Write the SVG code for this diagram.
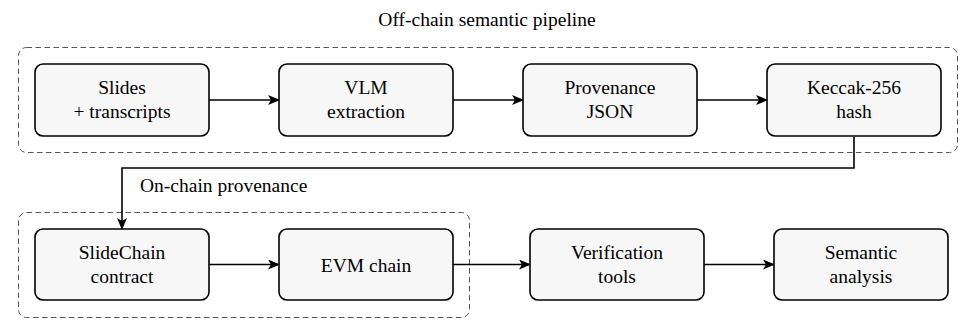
<svg xmlns="http://www.w3.org/2000/svg" width="972" height="332" viewBox="0 0 972 332">
<style>
.box{fill:#f7f7f7;stroke:#000;stroke-width:1.6}
.grp{fill:none;stroke:#555;stroke-width:1;stroke-dasharray:5.5 3.5}
.lbl{font-family:"Liberation Serif","DejaVu Serif",serif;font-size:19.5px;fill:#000;text-anchor:middle}
.start{text-anchor:start}
.edge{fill:none;stroke:#000;stroke-width:1.6}
</style>
<defs>
<marker id="ah" viewBox="0 0 12 10" refX="11" refY="5" markerWidth="12" markerHeight="10" markerUnits="userSpaceOnUse" orient="auto">
<path d="M0,0 L12,5 L0,10 L3,5 Z" fill="#000"/>
</marker>
</defs>
<rect fill="#fff" x="0" y="0" width="972" height="332"/>
<g id="group-offchain">
<rect class="grp" x="18.5" y="47.5" width="939" height="105" rx="8"/>
<text class="lbl" x="487" y="26">Off-chain semantic pipeline</text>
</g>
<g id="group-onchain">
<rect class="grp" x="18.5" y="212.5" width="451" height="105" rx="8"/>
<text class="lbl start" x="140" y="192">On-chain provenance</text>
</g>
<g id="connectors">
<line class="edge" x1="209" y1="100" x2="279" y2="100" marker-end="url(#ah)"/>
<line class="edge" x1="453" y1="100" x2="523" y2="100" marker-end="url(#ah)"/>
<line class="edge" x1="697" y1="100" x2="767" y2="100" marker-end="url(#ah)"/>
<polyline class="edge" points="854,137 854,168 122,168 122,229" marker-end="url(#ah)"/>
<line class="edge" x1="209" y1="264.5" x2="279" y2="264.5" marker-end="url(#ah)"/>
<line class="edge" x1="453" y1="264.5" x2="530" y2="264.5" marker-end="url(#ah)"/>
<line class="edge" x1="704" y1="264.5" x2="774" y2="264.5" marker-end="url(#ah)"/>
</g>
<g id="n-slides">
<rect class="box" x="35" y="64" width="174" height="72" rx="8"/>
<text class="lbl" x="122" y="94">Slides</text>
<text class="lbl" x="122" y="118">+ transcripts</text>
</g>
<g id="n-vlm">
<rect class="box" x="279" y="64" width="174" height="72" rx="8"/>
<text class="lbl" x="366" y="94">VLM</text>
<text class="lbl" x="366" y="118">extraction</text>
</g>
<g id="n-prov">
<rect class="box" x="523" y="64" width="174" height="72" rx="8"/>
<text class="lbl" x="610" y="94">Provenance</text>
<text class="lbl" x="610" y="118">JSON</text>
</g>
<g id="n-keccak">
<rect class="box" x="767" y="64" width="174" height="72" rx="8"/>
<text class="lbl" x="854" y="94">Keccak-256</text>
<text class="lbl" x="854" y="118">hash</text>
</g>
<g id="n-slidechain">
<rect class="box" x="35" y="229" width="174" height="71" rx="8"/>
<text class="lbl" x="122" y="259">SlideChain</text>
<text class="lbl" x="122" y="283">contract</text>
</g>
<g id="n-evm">
<rect class="box" x="279" y="229" width="174" height="71" rx="8"/>
<text class="lbl" x="366" y="271.5">EVM chain</text>
</g>
<g id="n-verif">
<rect class="box" x="530" y="229" width="174" height="71" rx="8"/>
<text class="lbl" x="617" y="259">Verification</text>
<text class="lbl" x="617" y="283">tools</text>
</g>
<g id="n-semantic">
<rect class="box" x="774" y="229" width="174" height="71" rx="8"/>
<text class="lbl" x="861" y="259">Semantic</text>
<text class="lbl" x="861" y="283">analysis</text>
</g>
</svg>
